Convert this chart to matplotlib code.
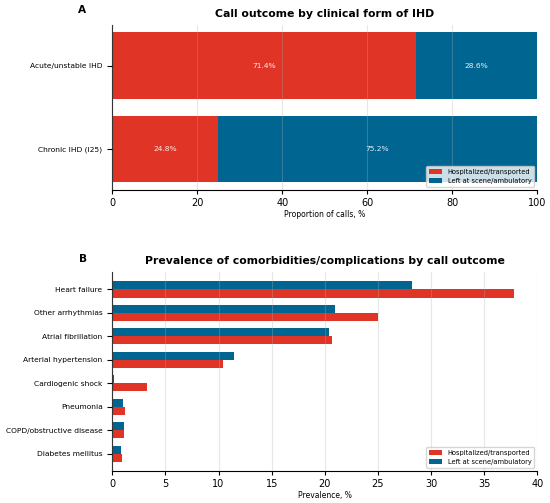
import matplotlib
matplotlib.use("Agg")
import matplotlib.pyplot as plt
import numpy as np

# Panel A data
forms = ["Acute/unstable IHD", "Chronic IHD (I25)"]
hosp_share = [71.4, 24.8]
left_share = [28.6, 75.2]

# Panel B data
conditions = ["Heart failure", "Other arrhythmias", "Atrial fibrillation",
              "Arterial hypertension", "Cardiogenic shock", "Pneumonia",
              "COPD/obstructive disease", "Diabetes mellitus"]
hosp_prev = [37.8, 25.0, 20.7, 10.4, 3.3, 1.2, 1.1, 0.9]
left_prev = [28.2, 21.0, 20.4, 11.5, 0.2, 1.0, 1.1, 0.8]

series_labels = ["Hospitalized/transported", "Left at scene/ambulatory"]
RED = "#E03426"
BLUE = "#006591"

fig = plt.figure(figsize=(5.5, 5.03), dpi=100)
axA = fig.add_axes([0.2042, 0.6223, 0.7727, 0.328])
axB = fig.add_axes([0.2042, 0.0636, 0.7727, 0.3956])

TICK_Y = 5.4
TICK_X = 7
TITLE = 7.8
LEG = 4.8
XLAB = 5.5

# Panel A
y = np.arange(len(forms))
axA.barh(y, hosp_share, height=0.8, color=RED, label=series_labels[0])
axA.barh(y, left_share, left=hosp_share, height=0.8, color=BLUE, label=series_labels[1])
for i in range(len(forms)):
    axA.text(hosp_share[i] / 2, y[i], f"{hosp_share[i]:.1f}%", ha="center", va="center",
             color="white", fontsize=5.4, alpha=0.9)
    axA.text(hosp_share[i] + left_share[i] / 2, y[i], f"{left_share[i]:.1f}%", ha="center",
             va="center", color="white", fontsize=5.4, alpha=0.9)
axA.set_yticks(y)
axA.set_yticklabels(forms, fontsize=TICK_Y)
axA.invert_yaxis()
axA.set_xlim(0, 100)
axA.set_xlabel("Proportion of calls, %", fontsize=XLAB, labelpad=1.5)
axA.tick_params(axis="x", labelsize=TICK_X, length=3, pad=2.5)
axA.set_axisbelow(False)
axA.grid(axis="x", color="#b0b0b0", alpha=0.3, linewidth=0.8)
axA.legend(loc="lower right", fontsize=LEG)
axA.set_title("Call outcome by clinical form of IHD", fontsize=TITLE, fontweight="bold")
for s in ["top", "right"]:
    axA.spines[s].set_visible(False)

# Panel B
yb = np.arange(len(conditions))
h = 0.35
axB.barh(yb + h / 2, hosp_prev, height=h, color=RED, label=series_labels[0])
axB.barh(yb - h / 2, left_prev, height=h, color=BLUE, label=series_labels[1])
axB.set_yticks(yb)
axB.set_yticklabels(conditions, fontsize=TICK_Y)
axB.invert_yaxis()
axB.set_xlim(0, 40)
axB.set_xlabel("Prevalence, %", fontsize=XLAB, labelpad=1.5)
axB.tick_params(axis="x", labelsize=TICK_X, length=3, pad=2.5)
axB.set_axisbelow(False)
axB.grid(axis="x", color="#b0b0b0", alpha=0.3, linewidth=0.8)
axB.legend(loc="lower right", fontsize=LEG)
axB.set_title("Prevalence of comorbidities/complications by call outcome", fontsize=TITLE,
              fontweight="bold")
for s in ["top", "right"]:
    axB.spines[s].set_visible(False)

fig.text(0.150, 0.990, "A", fontsize=7.6, fontweight="bold", ha="center", va="top")
fig.text(0.150, 0.4945, "B", fontsize=7.6, fontweight="bold", ha="center", va="top")

fig.savefig("out.png", dpi=100)
